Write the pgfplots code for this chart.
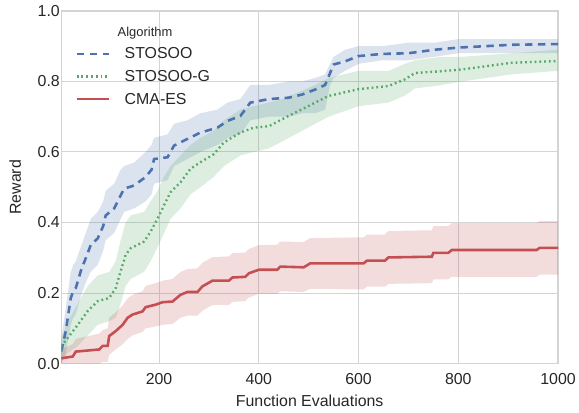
\documentclass[border={6pt 2pt 0pt 2pt}]{standalone}
\usepackage{fontspec}
\setmainfont{Liberation Sans}
\usepackage{pgfplots}
\usepackage{pgfplotstable}
\pgfplotsset{compat=1.18}
\usepgfplotslibrary{fillbetween}
\definecolor{sbblue}{HTML}{4C72B0}
\definecolor{sbgreen}{HTML}{55A868}
\definecolor{sbred}{HTML}{C44E52}
\definecolor{gridgray}{HTML}{D4D4D4}
\definecolor{txt}{HTML}{262626}

% STOSOO: mean with band
\pgfplotstableread{
x y lo hi
4 0.035 0.00 0.07
8 0.060 0.01 0.11
13 0.093 0.03 0.16
18 0.140 0.07 0.21
23 0.186 0.11 0.26
28 0.205 0.13 0.28
33 0.214 0.14 0.29
43 0.262 0.19 0.33
53 0.299 0.23 0.37
63 0.336 0.26 0.41
77 0.355 0.28 0.43
88 0.390 0.32 0.46
93 0.420 0.35 0.49
110 0.440 0.37 0.51
123 0.477 0.41 0.55
130 0.496 0.43 0.56
150 0.505 0.44 0.57
173 0.529 0.46 0.60
185 0.550 0.48 0.62
190 0.580 0.51 0.64
217 0.585 0.52 0.65
230 0.618 0.56 0.68
257 0.637 0.58 0.69
283 0.655 0.60 0.71
317 0.669 0.62 0.72
337 0.688 0.64 0.74
363 0.702 0.65 0.75
383 0.740 0.69 0.79
420 0.750 0.70 0.79
460 0.754 0.70 0.80
487 0.763 0.71 0.80
513 0.777 0.71 0.81
533 0.790 0.72 0.82
543 0.824 0.79 0.85
550 0.848 0.81 0.87
573 0.857 0.83 0.89
600 0.872 0.85 0.90
647 0.878 0.86 0.90
700 0.880 0.86 0.91
753 0.890 0.87 0.91
800 0.896 0.88 0.92
907 0.904 0.88 0.92
1000 0.906 0.88 0.92
}\stosoo

% STOSOO-G
\pgfplotstableread{
x y lo hi
4 0.035 0.00 0.06
6 0.054 0.01 0.08
17 0.073 0.03 0.12
37 0.110 0.05 0.17
57 0.149 0.08 0.22
77 0.177 0.11 0.25
100 0.186 0.12 0.26
113 0.214 0.13 0.29
123 0.262 0.17 0.35
133 0.308 0.22 0.40
143 0.327 0.24 0.42
170 0.346 0.26 0.43
183 0.374 0.29 0.46
197 0.411 0.33 0.49
210 0.449 0.37 0.53
223 0.486 0.41 0.56
243 0.514 0.44 0.59
263 0.552 0.48 0.62
283 0.571 0.50 0.64
310 0.594 0.53 0.66
330 0.627 0.56 0.69
363 0.655 0.59 0.72
390 0.669 0.60 0.73
420 0.673 0.61 0.74
447 0.693 0.63 0.75
513 0.740 0.68 0.79
540 0.759 0.70 0.81
600 0.778 0.73 0.83
660 0.787 0.74 0.83
693 0.806 0.76 0.85
713 0.824 0.78 0.86
767 0.829 0.79 0.87
807 0.834 0.80 0.87
907 0.853 0.82 0.88
1000 0.858 0.83 0.89
}\stosoog

% CMA-ES
\pgfplotstableread{
x y lo hi
4 0.015 0.000 0.040
27 0.020 0.000 0.055
33 0.034 0.000 0.070
80 0.040 0.000 0.085
87 0.050 0.005 0.095
97 0.050 0.005 0.100
100 0.078 0.025 0.130
113 0.092 0.040 0.145
127 0.110 0.055 0.165
137 0.130 0.070 0.185
147 0.139 0.080 0.195
167 0.148 0.090 0.205
173 0.160 0.100 0.220
193 0.167 0.105 0.228
207 0.174 0.110 0.235
227 0.176 0.112 0.240
243 0.195 0.130 0.260
257 0.203 0.136 0.268
277 0.203 0.136 0.270
287 0.219 0.150 0.286
307 0.235 0.166 0.302
340 0.235 0.166 0.304
347 0.244 0.175 0.313
373 0.246 0.177 0.315
380 0.256 0.187 0.325
400 0.266 0.198 0.336
437 0.266 0.198 0.337
443 0.275 0.205 0.346
490 0.273 0.203 0.345
503 0.284 0.212 0.356
610 0.284 0.210 0.358
617 0.292 0.218 0.366
653 0.292 0.218 0.366
660 0.301 0.226 0.376
747 0.303 0.228 0.378
750 0.314 0.239 0.390
780 0.314 0.239 0.390
787 0.322 0.246 0.398
957 0.322 0.246 0.398
963 0.328 0.252 0.404
1000 0.328 0.252 0.404
}\cmaes

\begin{document}
\begin{tikzpicture}
\begin{axis}[
  scale only axis,
  width=500pt, height=355pt,
  xmin=4, xmax=1000, ymin=0, ymax=1,
  xtick={200,400,600,800,1000},
  ytick={0,0.2,0.4,0.6,0.8,1.0},
  /pgf/number format/assume math mode=true,
  grid=major,
  grid style={gridgray, line width=1pt},
  axis line style={gridgray, line width=1.2pt},
  major tick length=0pt,
  tick style={draw=none},
  tick label style={font=\fontsize{16}{19}\selectfont, text=txt},
  xticklabel style={yshift=-6pt, /pgf/number format/1000 sep={}},
  yticklabel style={xshift=2pt, /pgf/number format/fixed,
    /pgf/number format/fixed zerofill, /pgf/number format/precision=1},
  label style={font=\fontsize{16}{19}\selectfont, text=txt},
  xlabel={Function Evaluations},
  ylabel={Reward},
  xlabel style={yshift=-4pt},
  ylabel style={yshift=10pt},
  legend style={at={(0.022,0.966)}, anchor=north west, draw=none, fill=none,
    font=\fontsize{16}{19}\selectfont, text=txt, row sep=6pt,
    legend cell align=left,
    /tikz/every odd column/.append style={column sep=12pt}},
  legend image code/.code={\draw[#1] (0pt,0pt) -- (33pt,0pt);},
]
% bands
\addplot[draw=none, name path=bU, forget plot] table[x=x, y=hi] {\stosoo};
\addplot[draw=none, name path=bL, forget plot] table[x=x, y=lo] {\stosoo};
\addplot[sbblue, fill opacity=0.2, draw=none, forget plot] fill between[of=bU and bL];
\addplot[draw=none, name path=gU, forget plot] table[x=x, y=hi] {\stosoog};
\addplot[draw=none, name path=gL, forget plot] table[x=x, y=lo] {\stosoog};
\addplot[sbgreen, fill opacity=0.2, draw=none, forget plot] fill between[of=gU and gL];
\addplot[draw=none, name path=rU, forget plot] table[x=x, y=hi] {\cmaes};
\addplot[draw=none, name path=rL, forget plot] table[x=x, y=lo] {\cmaes};
\addplot[sbred, fill opacity=0.2, draw=none, forget plot] fill between[of=rU and rL];
% legend title
\addlegendimage{empty legend}
\addlegendentry{\hspace{-7pt}\fontsize{13}{15}\selectfont Algorithm}
% means
\addplot[sbblue, line width=2.6pt, dash pattern=on 7.5pt off 5.5pt] table[x=x, y=y] {\stosoo};
\addlegendentry{STOSOO}
\addplot[sbgreen, line width=2.4pt, dash pattern=on 1.8pt off 3pt] table[x=x, y=y] {\stosoog};
\addlegendentry{STOSOO-G}
\addplot[sbred, line width=2.6pt] table[x=x, y=y] {\cmaes};
\addlegendentry{CMA-ES}
\end{axis}
\end{tikzpicture}
\end{document}
